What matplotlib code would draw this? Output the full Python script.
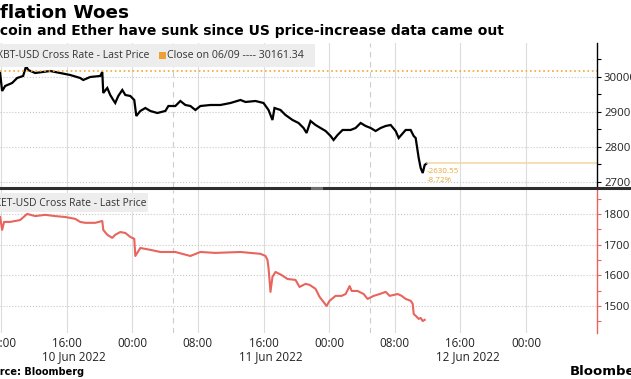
import pandas as pd
import matplotlib
matplotlib.use("Agg")
import matplotlib.pyplot as plt
import matplotlib.dates as mdates
from matplotlib.lines import Line2D
from matplotlib.patches import Rectangle
from matplotlib.ticker import MultipleLocator, FixedLocator

# hours after 10 Jun 2022 00:00
btc_hours = [7.88, 8.13, 8.5, 9.35, 9.96, 10.69, 11.06, 11.3, 12.16, 13.99, 15.21, 16.43,
             17.65, 18.02, 18.87, 20.09, 20.34, 20.46, 20.95, 21.31, 21.68, 21.92, 22.29,
             22.78, 23.15, 23.76, 24.24, 24.49, 24.98, 25.59, 26.2, 27.05, 28.03, 28.4,
             29.25, 29.86, 30.47, 31.08, 31.69, 32.3, 33.52, 34.74, 35.97, 37.19, 37.8,
             39.02, 40.0, 40.61, 41.09, 41.34, 42.07, 42.68, 43.54, 44.27, 44.88, 45.25,
             45.73, 46.34, 46.95, 47.57, 48.18, 48.54, 49.03, 49.64, 50.62, 51.23, 51.84,
             52.45, 53.06, 53.67, 54.28, 54.89, 55.5, 56.11, 56.48, 57.33, 57.94, 58.31,
             58.55, 58.92, 59.16, 59.41, 59.65, 59.9]
btc_price = [30114, 29600, 29743, 29829, 29971, 30029, 30314, 30200, 30114, 30171, 30114, 30057,
             29971, 29914, 30000, 30029, 30143, 29543, 29686, 29486, 29343, 29257, 29457,
             29629, 29486, 29457, 29343, 28886, 29029, 29114, 29029, 28971, 29029, 29171,
             29171, 29314, 29200, 29171, 29057, 29171, 29200, 29200, 29257, 29343, 29286,
             29314, 29257, 29057, 28771, 29114, 29057, 28914, 28771, 28686, 28543, 28400,
             28743, 28629, 28543, 28457, 28314, 28200, 28343, 28486, 28486, 28543, 28686,
             28600, 28543, 28457, 28543, 28600, 28629, 28457, 28257, 28486, 28486, 28314,
             28257, 27686, 27400, 27257, 27486, 27531]

eth_hours = [7.88, 8.13, 8.37, 9.1, 10.32, 11.18, 12.16, 13.38, 14.6, 15.82, 17.04, 17.65,
             18.26, 19.48, 20.34, 20.46, 20.95, 21.56, 21.92, 22.53, 23.15, 23.76, 24.24,
             24.37, 24.98, 26.2, 27.42, 29.25, 31.08, 32.3, 34.13, 37.19, 39.63, 40.24,
             40.48, 40.61, 40.85, 41.09, 41.46, 42.19, 42.93, 43.9, 44.39, 45.12, 45.61,
             46.34, 46.83, 47.32, 47.69, 48.05, 48.79, 49.52, 50.01, 50.5, 50.75, 51.47,
             52.21, 52.69, 53.43, 54.16, 54.89, 55.38, 56.36, 56.84, 57.33, 57.94, 58.19,
             58.31, 58.67, 58.92, 59.16, 59.41, 59.65]
eth_price = [1790, 1748, 1774, 1774, 1780, 1800, 1793, 1797, 1793, 1790, 1784, 1774,
             1771, 1771, 1777, 1748, 1732, 1722, 1732, 1741, 1738, 1725, 1719,
             1663, 1689, 1683, 1676, 1676, 1663, 1676, 1673, 1676, 1670, 1663,
             1650, 1624, 1546, 1595, 1611, 1601, 1588, 1585, 1562, 1572, 1569,
             1556, 1530, 1513, 1500, 1517, 1533, 1533, 1539, 1565, 1549, 1549,
             1539, 1523, 1533, 1539, 1546, 1533, 1539, 1533, 1523, 1517, 1507,
             1474, 1465, 1458, 1461, 1451, 1455]

prev_close = 30161.34
change_text = ["-2630.55", "-8.72%"]
tick_hours = [8, 16, 24, 32, 40, 48, 56, 64, 72]
date_labels = ["10 Jun 2022", "11 Jun 2022", "12 Jun 2022"]
date_hours = [16.9, 40.9, 64.9]
dashed_hours = [29, 53]
btc_ticks = [27000, 28000, 29000, 30000]
eth_ticks = [1500, 1600, 1700, 1800]

base = pd.Timestamp("2022-06-10")
def to_time(h):
    return base + pd.to_timedelta(h, unit="h")

btc_t = to_time(btc_hours)
eth_t = to_time(eth_hours)

W, H = 631, 379
fig = plt.figure(figsize=(W / 100, H / 100), dpi=100)
fig.patch.set_facecolor("white")
def fx(px):
    return px / W
def fy(py):
    return 1 - py / H

LABEL_FONT = "Open Sans"
ETH_RED = "#e8645c"
GRID = "#dcdcdc"

ax1 = fig.add_axes([0, fy(187), fx(597), fy(43) - fy(187)])
ax2 = fig.add_axes([0, fy(333), fx(597), fy(190) - fy(333)], sharex=ax1)

for ax in (ax1, ax2):
    for s in ("top", "left", "bottom"):
        ax.spines[s].set_visible(False)
    ax.spines["right"].set_linewidth(1.0)
    ax.yaxis.tick_right()
    ax.tick_params(axis="y", which="both", direction="out", length=3, width=0.8,
                   labelsize=8.2, pad=2)
    ax.tick_params(axis="x", length=0)
    ax.grid(axis="y", which="major", ls=":", color="#c8c8c8", lw=0.8)
    ax.grid(axis="x", ls="-", color=GRID, lw=0.8)
    for h in dashed_hours:
        ax.axvline(to_time(h), color="#cccccc", lw=0.8, ls=(0, (5, 4)))
    ax.set_axisbelow(True)

ax1.spines["right"].set_color("black")
ax2.spines["right"].set_color(ETH_RED)
ax2.tick_params(axis="y", which="both", color=ETH_RED)

ax1.plot(btc_t, btc_price, color="black", lw=1.6, solid_joinstyle="miter")
ax1.axhline(prev_close, color="#f0a830", ls=":", lw=1.2)
ax1.plot([btc_t[-1], to_time(80.66)], [btc_price[-1], btc_price[-1]], color="#f0d7a0", lw=1.1)
ax1.annotate("\n".join(change_text), xy=(btc_t[-1], btc_price[-1]), xytext=(0, -5),
             textcoords="offset pixels", ha="left", va="top", fontsize=5.8,
             color="#e8a838", family=LABEL_FONT, linespacing=1.25)

ax2.plot(eth_t, eth_price, color=ETH_RED, lw=1.5)

ax1.set_xlim(to_time(7.87), to_time(80.66))
ax1.set_ylim(26857, 30971)
ax2.set_ylim(1412, 1878)
ax1.yaxis.set_major_locator(FixedLocator(btc_ticks))
ax1.yaxis.set_minor_locator(MultipleLocator(500))
ax2.yaxis.set_major_locator(FixedLocator(eth_ticks))
ax2.yaxis.set_minor_locator(MultipleLocator(50))
ax1.set_yticklabels([str(v) for v in btc_ticks], family=LABEL_FONT, color="#222222")
ax2.set_yticklabels([str(v) for v in eth_ticks], family=LABEL_FONT, color="#222222")

ax2.xaxis.set_major_locator(FixedLocator([mdates.date2num(to_time(h)) for h in tick_hours]))
ax2.xaxis.set_major_formatter(mdates.DateFormatter("%H:%M"))
ax2.tick_params(axis="x", labelsize=8.4, pad=3, labelcolor="#222222")
for lab in ax2.get_xticklabels():
    lab.set_family(LABEL_FONT)
plt.setp(ax1.get_xticklabels(), visible=False)

for h, d in zip(date_hours, date_labels):
    ax2.annotate(d, xy=(to_time(h), 0), xycoords=("data", "axes fraction"),
                 xytext=(0, -24), textcoords="offset pixels", ha="center", va="center",
                 fontsize=8.4, family=LABEL_FONT, color="#222222")

# legend boxes
fig.add_artist(Rectangle((0, fy(67)), fx(315), fy(44) - fy(67), transform=fig.transFigure,
                         facecolor="#ededed", edgecolor="none"))
fig.add_artist(Rectangle((0, fy(212)), fx(148), fy(193) - fy(212), transform=fig.transFigure,
                         facecolor="#ededed", edgecolor="none"))
fig.add_artist(Rectangle((fx(159.5), fy(58.5)), fx(6.5), fy(52) - fy(58.5),
                         transform=fig.transFigure, facecolor="#f0a030", edgecolor="none"))

# separator between panels
fig.add_artist(Line2D([0, 1], [fy(188), fy(188)], transform=fig.transFigure,
                      color="#2e2e2e", lw=2.2))
fig.add_artist(Line2D([fx(312), fx(321)], [fy(188), fy(188)], transform=fig.transFigure,
                      color="#707070", lw=2.2))

renderer = fig.canvas.get_renderer()

def clipped_text(x_px, y_px, full, hidden, **kw):
    # put text so that the part after `hidden` starts at x_px
    probe = fig.text(0, 0, hidden, **kw)
    w = probe.get_window_extent(renderer).width
    probe.remove()
    return fig.text(fx(x_px - w), fy(y_px), full, **kw)

clipped_text(0, 18.5, "Inflation Woes", "In", fontsize=13.2, fontweight="bold",
             family="DejaVu Sans", va="baseline", color="black")
clipped_text(0, 35.5, "Bitcoin and Ether have sunk since US price-increase data came out", "Bit",
             fontsize=10, fontweight="bold", family="DejaVu Sans", va="baseline", color="black")
clipped_text(3, 55.5, "XBT-USD Cross Rate - Last Price", "X", fontsize=7.5,
             family=LABEL_FONT, va="center", color="#333333")
fig.text(fx(167), fy(55.5), "Close on 06/09 ---- 30161.34", fontsize=7.6,
         family=LABEL_FONT, va="center", color="#333333")
clipped_text(1, 203, "XET-USD Cross Rate - Last Price", "X", fontsize=7.5,
             family=LABEL_FONT, va="center", color="#333333")
clipped_text(0, 372, "Source: Bloomberg", "Sou", fontsize=7, fontweight="bold",
             family="DejaVu Sans", va="center", color="black")
fig.text(fx(570), fy(371), "Bloomberg", fontsize=9.5, fontweight="bold",
         family="DejaVu Sans", va="center", color="black")

fig.savefig("out.png", dpi=100, facecolor="white")
